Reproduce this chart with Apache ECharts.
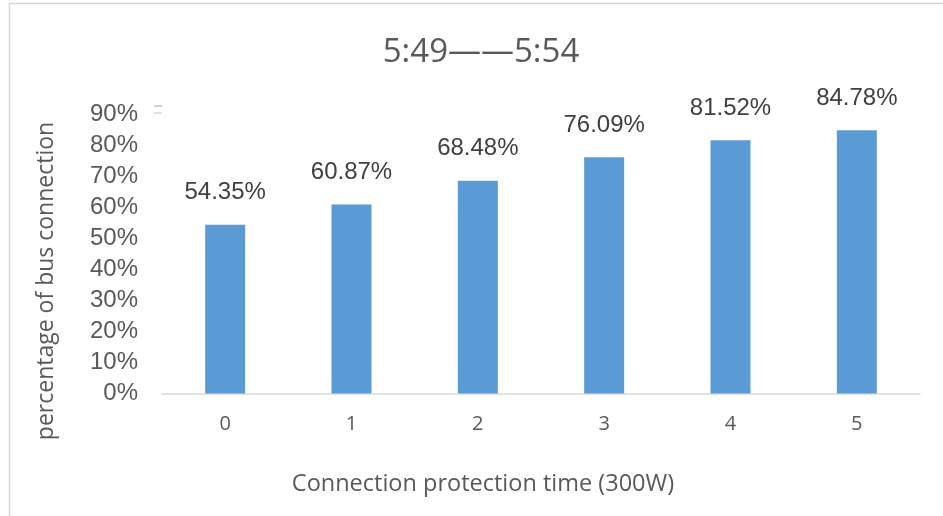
<!DOCTYPE html>
<html>
<head>
<meta charset="utf-8">
<script src="https://cdn.jsdelivr.net/npm/echarts@6/dist/echarts.min.js"></script>
<style>
html,body{margin:0;padding:0;background:#fff;}
#c{width:943px;height:516px;}
</style>
</head>
<body>
<div id="c"></div>
<script>
const titleText = '5:49——5:54';
const categories = ['0', '1', '2', '3', '4', '5'];
const values = [54.35, 60.87, 68.48, 76.09, 81.52, 84.78];
const yTicks = [0, 10, 20, 30, 40, 50, 60, 70, 80, 90];
const xName = 'Connection protection time (300W)';
const yName = 'percentage of bus connection';

const chart = echarts.init(document.getElementById('c'), null, {renderer: 'canvas'});
chart.setOption({
  animation: false,
  backgroundColor: '#ffffff',
  graphic: [
    {type: 'rect', shape: {x: 9.5, y: 3.5, width: 1000, height: 600}, style: {fill: 'none', stroke: '#D9D9D9', lineWidth: 1.5}, silent: true},
    {type: 'rect', shape: {x: 154, y: 105, width: 8, height: 2}, style: {fill: '#D0D0D0'}, silent: true},
    {type: 'rect', shape: {x: 154, y: 112, width: 8, height: 2}, style: {fill: '#E0E0E0'}, silent: true},
    {type: 'text', x: 481, y: 53, silent: true,
     style: {text: titleText, fontFamily: 'Open Sans', fontSize: 33, fill: '#595959', textAlign: 'center', textVerticalAlign: 'middle'}},
    {type: 'text', x: 483, y: 484, silent: true,
     style: {text: xName, fontFamily: 'Open Sans', fontSize: 23.5, fill: '#595959', textAlign: 'center', textVerticalAlign: 'middle'}},
    {type: 'text', x: 46, y: 281, rotation: Math.PI / 2, silent: true,
     style: {text: yName, fontFamily: 'Open Sans', fontSize: 23, fill: '#595959', textAlign: 'center', textVerticalAlign: 'middle'}}
  ],
  grid: {left: 162, right: 23, top: 114, bottom: 122.5, containLabel: false},
  xAxis: {
    type: 'category',
    data: categories,
    axisLine: {lineStyle: {color: '#D9D9D9', width: 1.5}},
    axisTick: {show: false},
    axisLabel: {fontFamily: 'Open Sans', fontSize: 20, color: '#595959', margin: 21}
  },
  yAxis: {
    type: 'value',
    min: yTicks[0],
    max: yTicks[yTicks.length - 1],
    interval: yTicks[1] - yTicks[0],
    axisLine: {show: false},
    axisTick: {show: false},
    splitLine: {show: false},
    axisLabel: {fontFamily: 'Liberation Sans', fontSize: 24, color: '#595959', margin: 24, formatter: v => v + '%'}
  },
  series: [{
    type: 'bar',
    data: values,
    barWidth: 40,
    itemStyle: {color: '#5B9BD5'},
    label: {
      show: true,
      position: 'top',
      distance: 20,
      fontFamily: 'Liberation Sans',
      fontSize: 24,
      color: '#404040',
      formatter: p => p.value.toFixed(2) + '%'
    }
  }]
});
</script>
</body>
</html>
